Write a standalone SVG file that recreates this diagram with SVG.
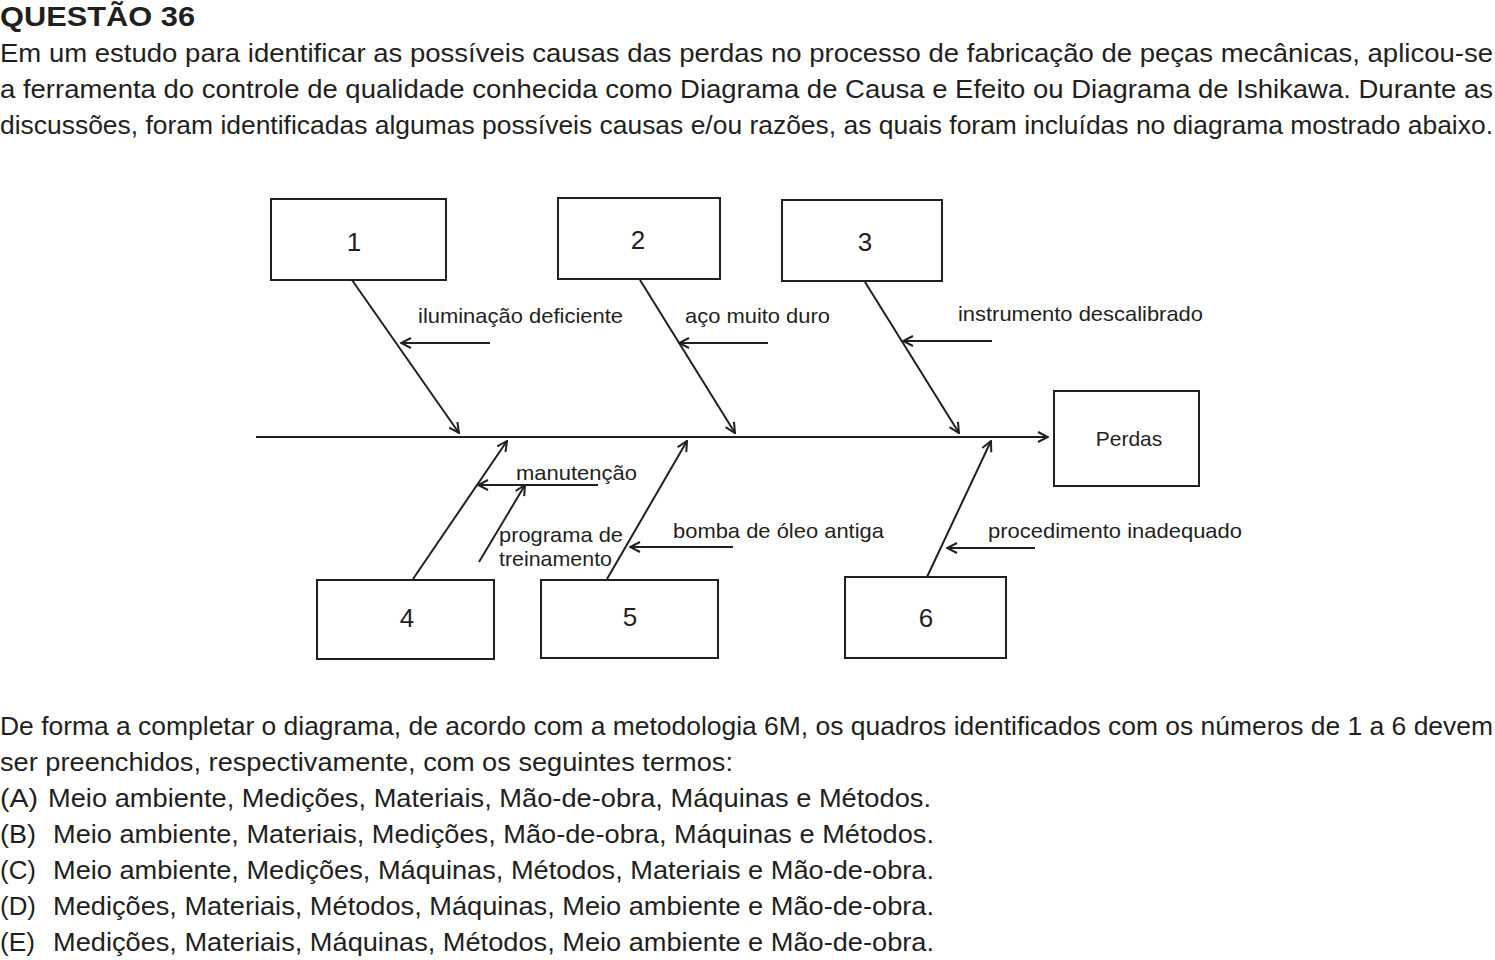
<svg xmlns="http://www.w3.org/2000/svg" width="1495" height="960" viewBox="0 0 1495 960">
<style>
  .t { font-family: "Liberation Sans", Arial, sans-serif; font-size: 25px; fill: #231f20; }
  .h { font-family: "Liberation Sans", Arial, sans-serif; font-size: 27px; font-weight: bold; fill: #231f20; }
  .lab { font-family: "Liberation Sans", Arial, sans-serif; font-size: 21px; fill: #231f20; }
  .num { font-family: "Liberation Sans", Arial, sans-serif; font-size: 26px; fill: #231f20; text-anchor: middle; }
  .box { fill: #ffffff; stroke: #231f20; stroke-width: 2; }
  .ln { stroke: #231f20; stroke-width: 2; fill: none; }
</style>
<defs>
  <marker id="arr" viewBox="0 0 12 12" refX="11" refY="6" markerWidth="12" markerHeight="12" markerUnits="userSpaceOnUse" orient="auto">
    <path d="M1,1 L11,6 L1,11" fill="none" stroke="#231f20" stroke-width="2"/>
  </marker>
</defs>
<rect width="1495" height="960" fill="#ffffff"/>

<g id="header">
  <text class="h" x="0" y="26" textLength="195" lengthAdjust="spacingAndGlyphs">QUESTÃO 36</text>
  <text class="t" x="0" y="62" textLength="1493" lengthAdjust="spacingAndGlyphs">Em um estudo para identificar as possíveis causas das perdas no processo de fabricação de peças mecânicas, aplicou-se</text>
  <text class="t" x="0" y="98" textLength="1493" lengthAdjust="spacingAndGlyphs">a ferramenta do controle de qualidade conhecida como Diagrama de Causa e Efeito ou Diagrama de Ishikawa. Durante as</text>
  <text class="t" x="0" y="134" textLength="1493" lengthAdjust="spacingAndGlyphs">discussões, foram identificadas algumas possíveis causas e/ou razões, as quais foram incluídas no diagrama mostrado abaixo.</text>
</g>

<g id="connectors">
  <line class="ln" x1="256" y1="437" x2="1048" y2="437" marker-end="url(#arr)"/>
  <line class="ln" x1="352" y1="280" x2="459" y2="433" marker-end="url(#arr)"/>
  <line class="ln" x1="640" y1="280" x2="735" y2="433" marker-end="url(#arr)"/>
  <line class="ln" x1="865" y1="282" x2="959" y2="433" marker-end="url(#arr)"/>
  <line class="ln" x1="490" y1="343" x2="401" y2="343" marker-end="url(#arr)"/>
  <line class="ln" x1="768" y1="343" x2="679" y2="343" marker-end="url(#arr)"/>
  <line class="ln" x1="992" y1="341" x2="903" y2="341" marker-end="url(#arr)"/>
  <line class="ln" x1="413" y1="579" x2="507" y2="441" marker-end="url(#arr)"/>
  <line class="ln" x1="607" y1="579" x2="687" y2="441" marker-end="url(#arr)"/>
  <line class="ln" x1="927" y1="577" x2="991" y2="441" marker-end="url(#arr)"/>
  <line class="ln" x1="598" y1="485" x2="478" y2="485" marker-end="url(#arr)"/>
  <line class="ln" x1="479" y1="562" x2="525" y2="485" marker-end="url(#arr)"/>
  <line class="ln" x1="733" y1="547" x2="630" y2="547" marker-end="url(#arr)"/>
  <line class="ln" x1="1035" y1="548" x2="947" y2="548" marker-end="url(#arr)"/>
</g>

<g id="labels">
  <text class="lab" x="418" y="323" textLength="205" lengthAdjust="spacingAndGlyphs">iluminação deficiente</text>
  <text class="lab" x="685" y="323" textLength="145" lengthAdjust="spacingAndGlyphs">aço muito duro</text>
  <text class="lab" x="958" y="321" textLength="245" lengthAdjust="spacingAndGlyphs">instrumento descalibrado</text>
  <text class="lab" x="516" y="480" textLength="121" lengthAdjust="spacingAndGlyphs">manutenção</text>
  <text class="lab" x="499" y="542" textLength="124" lengthAdjust="spacingAndGlyphs">programa de</text>
  <text class="lab" x="499" y="566" textLength="113" lengthAdjust="spacingAndGlyphs">treinamento</text>
  <text class="lab" x="673" y="538" textLength="211" lengthAdjust="spacingAndGlyphs">bomba de óleo antiga</text>
  <text class="lab" x="988" y="538" textLength="254" lengthAdjust="spacingAndGlyphs">procedimento inadequado</text>
</g>

<g id="node1"><rect class="box" x="271" y="199" width="175" height="81"/><text class="num" x="354" y="251">1</text></g>
<g id="node2"><rect class="box" x="558" y="198" width="162" height="81"/><text class="num" x="638" y="249">2</text></g>
<g id="node3"><rect class="box" x="782" y="200" width="160" height="81"/><text class="num" x="865" y="251">3</text></g>
<g id="node-perdas"><rect class="box" x="1054" y="391" width="145" height="95"/><text class="lab" x="1129" y="446" text-anchor="middle">Perdas</text></g>
<g id="node4"><rect class="box" x="317" y="580" width="177" height="79"/><text class="num" x="407" y="627">4</text></g>
<g id="node5"><rect class="box" x="541" y="580" width="177" height="78"/><text class="num" x="630" y="626">5</text></g>
<g id="node6"><rect class="box" x="845" y="577" width="161" height="81"/><text class="num" x="926" y="627">6</text></g>

<g id="footer">
  <text class="t" x="0" y="735" textLength="1493" lengthAdjust="spacingAndGlyphs">De forma a completar o diagrama, de acordo com a metodologia 6M, os quadros identificados com os números de 1 a 6 devem</text>
  <text class="t" x="0" y="771" textLength="733" lengthAdjust="spacingAndGlyphs">ser preenchidos, respectivamente, com os seguintes termos:</text>
  <text class="t" x="0" y="807" textLength="38" lengthAdjust="spacingAndGlyphs">(A)</text>
  <text class="t" x="48" y="807" textLength="883" lengthAdjust="spacingAndGlyphs">Meio ambiente, Medições, Materiais, Mão-de-obra, Máquinas e Métodos.</text>
  <text class="t" x="0" y="843" textLength="36" lengthAdjust="spacingAndGlyphs">(B)</text>
  <text class="t" x="53" y="843" textLength="881" lengthAdjust="spacingAndGlyphs">Meio ambiente, Materiais, Medições, Mão-de-obra, Máquinas e Métodos.</text>
  <text class="t" x="0" y="879" textLength="36" lengthAdjust="spacingAndGlyphs">(C)</text>
  <text class="t" x="53" y="879" textLength="881" lengthAdjust="spacingAndGlyphs">Meio ambiente, Medições, Máquinas, Métodos, Materiais e Mão-de-obra.</text>
  <text class="t" x="0" y="915" textLength="36" lengthAdjust="spacingAndGlyphs">(D)</text>
  <text class="t" x="53" y="915" textLength="881" lengthAdjust="spacingAndGlyphs">Medições, Materiais, Métodos, Máquinas, Meio ambiente e Mão-de-obra.</text>
  <text class="t" x="0" y="951" textLength="35" lengthAdjust="spacingAndGlyphs">(E)</text>
  <text class="t" x="53" y="951" textLength="881" lengthAdjust="spacingAndGlyphs">Medições, Materiais, Máquinas, Métodos, Meio ambiente e Mão-de-obra.</text>
</g>
</svg>
